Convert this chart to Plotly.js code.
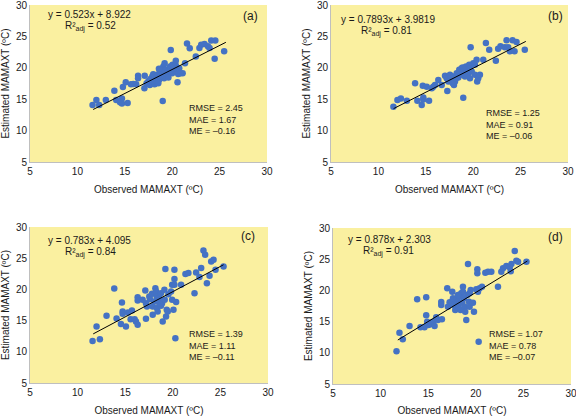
<!DOCTYPE html>
<html>
<head>
<meta charset="utf-8">
<script src="https://cdn.plot.ly/plotly-3.0.1.min.js"></script>
<style>html,body{margin:0;padding:0;background:#fff;}#chart{width:576px;height:416px;}</style>
</head>
<body>
<div id="chart"></div>
<script>
// ---- Panel (a) ----
const obsA = [11.6,12.0,12.3,13.0,13.9,14.1,14.5,14.7,14.7,14.8,15.1,15.3,15.65,15.9,16.2,16.4,16.4,17.1,17.07,17.3,17.5,17.7,17.9,18.0,18.07,18.25,18.36,18.43,18.6,18.7,18.86,18.96,19.07,19.14,19.32,19.42,19.0,19.2,19.56,19.78,19.85,20.03,20.2,20.38,20.38,20.56,20.63,20.74,20.85,21.35,21.56,21.85,22.49,22.87,23.06,23.41,23.77,23.94,24.12,24.55,24.48,25.48,17.64,18.14,18.53,18.78,19.21,19.71,19.99,20.14,21.1,19.6,17.89,18.6];
const estA = [14.06,14.86,14.06,14.86,16.36,14.86,14.5,15.1,14.3,16.95,17.7,14.4,17.37,17.43,17.37,18.72,18.33,18.72,16.73,17.53,17.9,18.23,18.6,18.97,17.53,17.8,18.33,18.88,18.07,19.4,19.84,18.88,20.21,18.33,19.13,19.68,14.7,20.74,18.97,20.21,22.83,20.48,19.4,20.37,21.12,17.69,19.01,19.94,19.13,20.74,23.85,23.1,21.81,23.15,23.69,23.79,23.42,23.15,24.33,24.33,21.44,22.62,17.27,17.37,17.53,18.6,19.52,19.4,19.13,19.94,19.13,18.46,17.8,19.84];
const lineXA = [11.66, 25.66];
const lineYA = [13.36, 24.06];

// ---- Panel (b) ----
const obsB = [11.58,12.01,12.37,13.0,13.87,14.11,14.57,14.68,14.74,14.74,15.1,15.34,15.63,15.79,15.97,16.32,16.68,17.03,17.2,17.27,17.55,17.73,17.9,17.97,18.08,18.26,18.43,18.53,18.68,18.78,18.95,19.03,19.24,19.38,19.48,19.58,19.66,19.73,19.84,20.01,20.18,20.36,20.42,20.53,20.71,21.06,21.34,21.69,22.39,22.63,22.88,23.34,23.52,23.69,23.87,24.15,24.36,24.57,25.44,17.38,17.84,18.18,18.6,19.13,18.88,20.18,19.66];
const estB = [13.79,14.86,15.12,14.75,17.53,14.75,14.06,17.16,15.28,14.96,17.0,14.75,16.73,17.0,17.27,18.07,17.27,18.72,18.33,16.31,18.88,18.07,18.6,17.27,17.8,19.13,18.44,19.68,18.88,19.94,15.23,19.4,20.21,19.68,19.13,20.48,19.94,23.26,19.4,20.74,18.88,21.28,17.8,18.33,18.88,21.28,23.95,22.89,21.12,23.05,23.42,23.26,24.38,23.26,22.62,24.38,22.62,24.11,22.89,17.8,17.53,18.33,19.3,18.6,20.05,20.48,18.33];
const lineXB = [11.6, 25.55];
const lineYB = [13.5, 24.2];

// ---- Panel (c) ----
const obsC = [11.57,11.99,12.34,13.04,13.85,14.09,14.55,14.66,14.73,14.73,15.08,15.29,15.57,15.71,15.99,16.13,16.31,16.31,16.31,17.11,17.18,17.18,17.53,17.6,17.82,17.89,17.89,18.06,18.17,18.24,18.31,18.34,18.41,18.59,18.76,18.87,18.94,19.12,19.22,19.15,19.36,19.47,19.82,19.93,20.07,20.17,20.17,20.17,20.35,20.27,20.87,21.33,21.64,22.28,22.45,22.8,22.98,23.22,23.4,23.58,23.86,24.03,24.28,24.49,25.33,16.83,17.29,18.76,19.54,18.59,19.29,19.93];
const estC = [11.75,14.04,12.02,15.76,20.15,15.33,14.47,17.9,16.45,16.1,14.04,16.29,15.23,16.61,15.23,14.85,14.32,18.76,18.22,19.83,15.28,17.8,18.87,18.44,19.29,17.26,15.92,18.06,20.2,19.67,18.87,17.0,16.45,18.6,19.4,17.8,14.85,19.94,23.26,18.33,16.72,16.45,19.67,20.74,16.72,23.15,21.65,20.74,18.0,12.17,20.74,22.45,22.61,19.4,22.72,21.97,23.42,26.25,25.56,21.0,22.18,24.49,24.75,23.15,23.68,18.33,17.26,17.37,19.24,17.69,15.65,18.33];
const lineXC = [11.64, 25.33];
const lineYC = [12.87, 23.95];

// ---- Panel (d) ----
const obsD = [11.67,11.98,12.33,13.04,13.84,14.19,14.61,14.79,14.79,14.89,15.03,15.25,15.49,15.67,15.84,16.02,16.44,16.37,16.37,17.0,17.07,17.25,17.42,17.53,17.6,17.7,17.84,17.95,18.12,18.19,18.3,18.4,18.47,18.58,18.65,18.75,18.82,18.89,19.0,19.18,19.11,19.28,19.35,19.46,19.7,19.81,20.05,20.16,20.16,20.23,20.3,20.4,20.65,21.0,21.28,21.63,22.33,22.68,22.86,23.21,23.56,23.74,24.09,24.26,24.44,23.67,25.32,19.35,18.65,18.12];
const estD = [10.24,13.23,12.16,14.29,18.57,14.08,14.08,18.89,16.0,14.99,14.45,14.62,14.99,14.29,15.68,15.26,15.36,18.14,17.66,20.33,17.39,18.09,18.04,19.8,18.73,17.66,16.86,18.46,18.19,17.39,19.0,16.86,19.53,18.04,19.8,18.73,17.39,16.59,15.26,24.23,19.26,18.19,17.39,20.06,18.04,16.59,20.17,23.38,22.75,19.8,11.78,20.33,20.6,22.84,23.0,23.0,20.6,23.0,23.53,23.91,23.7,24.23,26.31,24.77,24.6,23.06,24.6,19.53,20.6,19.26];
const lineXD = [11.81, 25.42];
const lineYD = [12.05, 24.71];

const panelLabels = ['(a)', '(b)', '(c)', '(d)'];
const equations = ['y = 0.523x + 8.922', 'y = 0.7893x + 3.9819', 'y = 0.783x + 4.095', 'y = 0.878x + 2.303'];
const r2Values = ['0.52', '0.81', '0.84', '0.91'];
const rmseValues = ['2.45', '1.25', '1.39', '1.07'];
const maeValues = ['1.67', '0.91', '1.11', '0.78'];
const meValues = ['–0.16', '–0.06', '–0.11', '–0.07'];
const xTitle = 'Observed MAMAXT (ºC)';
const yTitle = 'Estimated MAMAXT (ºC)';

const W = 576, H = 416;
const FONT = 'Liberation Sans, Arial, sans-serif';
const TXT = '#1a1a1a';
const ptsX = [obsA, obsB, obsC, obsD];
const ptsY = [estA, estB, estC, estD];
const linesX = [lineXA, lineXB, lineXC, lineXD];
const linesY = [lineYA, lineYB, lineYC, lineYD];

// plot-area boxes in pixels [left, right, top, bottom]
const boxes = [[30, 267, 5, 162], [331, 568, 5, 162], [30, 268, 227, 383], [333, 571, 228, 384]];
// annotation pixel anchors: eq, r2, label, stats(left x, middle y)
const anno = [
  {eq:[47,14.5], r2:[64,26.5], lab:[250,16], st:[188,119]},
  {eq:[340,19.5], r2:[360,31.5], lab:[555,16], st:[485,124]},
  {eq:[47,240.5], r2:[64,252.5], lab:[248,236], st:[188,345]},
  {eq:[347,239.5], r2:[362,251.5], lab:[555,237], st:[488,345]}
];
const px = v => v / W;
const py = v => 1 - v / H;

const data = [];
const layout = {
  width: W, height: H,
  margin: {l:0, r:0, t:0, b:0},
  paper_bgcolor: '#ffffff',
  plot_bgcolor: '#FAF0A0',
  showlegend: false,
  font: {family: FONT, size: 10, color: TXT},
  annotations: []
};

for (let i = 0; i < 4; i++) {
  const s = i === 0 ? '' : String(i + 1);
  const xa = 'x' + s, ya = 'y' + s;
  data.push({x: ptsX[i], y: ptsY[i], type: 'scatter', mode: 'markers', xaxis: xa, yaxis: ya,
    marker: {color: '#4472C4', size: 6.5}, hoverinfo: 'skip'});
  data.push({x: linesX[i], y: linesY[i], type: 'scatter', mode: 'lines', xaxis: xa, yaxis: ya,
    line: {color: '#000000', width: 1}, hoverinfo: 'skip'});
  const b = boxes[i];
  const axCommon = {range: [5, 30], tick0: 5, dtick: 5, showgrid: false, zeroline: false,
    showline: true, linecolor: '#BFBFBF', linewidth: 1, ticks: '', fixedrange: true,
    ticklabeloverflow: 'allow',
    tickfont: {family: FONT, size: 10, color: TXT}};
  layout['xaxis' + s] = Object.assign({}, axCommon, {
    domain: [px(b[0]), px(b[1])], anchor: ya,
    title: {text: xTitle, standoff: 9, font: {family: FONT, size: 10, color: TXT}}
  });
  layout['yaxis' + s] = Object.assign({}, axCommon, {
    domain: [py(b[3]), py(b[2])], anchor: xa,
    title: {text: yTitle, standoff: 4, font: {family: FONT, size: 10, color: TXT}}
  });
  const a = anno[i];
  const mk = (text, x, y, xanchor, size, align) => ({text: text, x: px(x), y: py(y), xref: 'paper', yref: 'paper',
    xanchor: xanchor, yanchor: 'middle', align: align || 'left', borderpad: 0, showarrow: false,
    font: {family: FONT, size: size, color: TXT}});
  layout.annotations.push(mk(equations[i], a.eq[0], a.eq[1], 'left', 10));
  layout.annotations.push(mk('R²<sub>adj</sub> = ' + r2Values[i], a.r2[0], a.r2[1], 'left', 10));
  layout.annotations.push(mk(panelLabels[i], a.lab[0], a.lab[1], 'center', 12, 'center'));
  layout.annotations.push(mk('RMSE = ' + rmseValues[i] + '<br>MAE = ' + maeValues[i] + '<br>ME = ' + meValues[i],
    a.st[0], a.st[1], 'left', 9));
}

Plotly.newPlot('chart', data, layout, {staticPlot: true, displayModeBar: false});
</script>
</body>
</html>
